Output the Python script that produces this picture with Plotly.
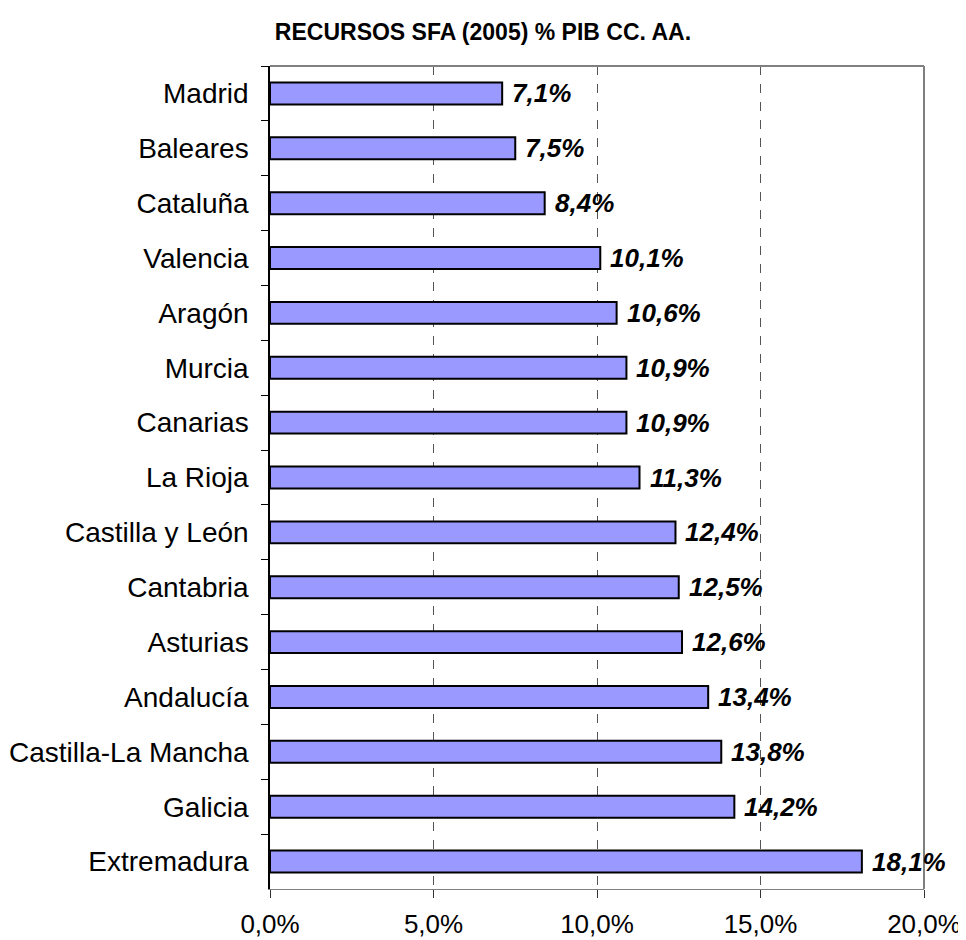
import plotly.graph_objects as go

regions = ["Madrid", "Baleares", "Cataluña", "Valencia", "Aragón", "Murcia", "Canarias",
           "La Rioja", "Castilla y León", "Cantabria", "Asturias", "Andalucía",
           "Castilla-La Mancha", "Galicia", "Extremadura"]
values = [7.1, 7.5, 8.4, 10.1, 10.6, 10.9, 10.9, 11.3, 12.4, 12.5, 12.6, 13.4, 13.8, 14.2, 18.1]
tick_vals = [0, 5, 10, 15, 20]
tick_text = ["0,0%", "5,0%", "10,0%", "15,0%", "20,0%"]
title = "RECURSOS SFA (2005) % PIB CC. AA."

FONT = "Liberation Sans"

fig = go.Figure()
fig.add_trace(go.Bar(
    x=values, y=regions, orientation="h",
    marker=dict(color="#9999FF", line=dict(color="black", width=2)),
    width=0.4,
    hoverinfo="skip",
))

for r, v in zip(regions, values):
    fig.add_annotation(
        x=v, y=r, text=f"{v:.1f}%".replace(".", ","),
        xanchor="left", yanchor="middle", xshift=8, showarrow=False,
        font=dict(family=FONT, size=26, color="black", weight="bold", style="italic"),
    )

# page body has an 8px margin: figure is sized/positioned to compensate
fig.update_layout(
    width=958, height=932,
    margin=dict(l=262, r=42, t=58, b=51),
    paper_bgcolor="white", plot_bgcolor="white",
    showlegend=False,
    title=dict(text=f"<b>{title}</b>", x=0.4958, xanchor="center", y=1 - 24 / 932, yanchor="middle",
               font=dict(family=FONT, size=23, color="black"), automargin=False),
    font=dict(family=FONT, color="black"),
)

fig.update_xaxes(
    range=[0, 20], tickvals=tick_vals, ticktext=tick_text,
    tickfont=dict(size=26, family=FONT, color="black"),
    ticks="outside", ticklen=8, tickcolor="#333333", tickwidth=1,
    ticklabelstandoff=4, ticklabeloverflow="allow",
    showline=True, linecolor="#808080", linewidth=1,
    showgrid=True, gridcolor="#555555", griddash="dash", gridwidth=1,
    zeroline=False, mirror=False, fixedrange=True, automargin=False,
)
fig.update_yaxes(
    categoryorder="array", categoryarray=regions, autorange="reversed",
    tickfont=dict(size=28, family=FONT, color="black"),
    ticks="outside", ticklen=7, tickcolor="black", tickwidth=1, tickson="boundaries",
    showline=True, linecolor="black", linewidth=1.5,
    showgrid=False, zeroline=False, fixedrange=True, automargin=False,
    ticklabelstandoff=14,
)

# top and right border of plot area
fig.add_shape(type="line", xref="paper", yref="paper", x0=0, x1=1, y0=1, y1=1,
              line=dict(color="#808080", width=2))
fig.add_shape(type="line", xref="paper", yref="paper", x0=1, x1=1, y0=0, y1=1,
              line=dict(color="#808080", width=2))

fig.write_html("out.html")
